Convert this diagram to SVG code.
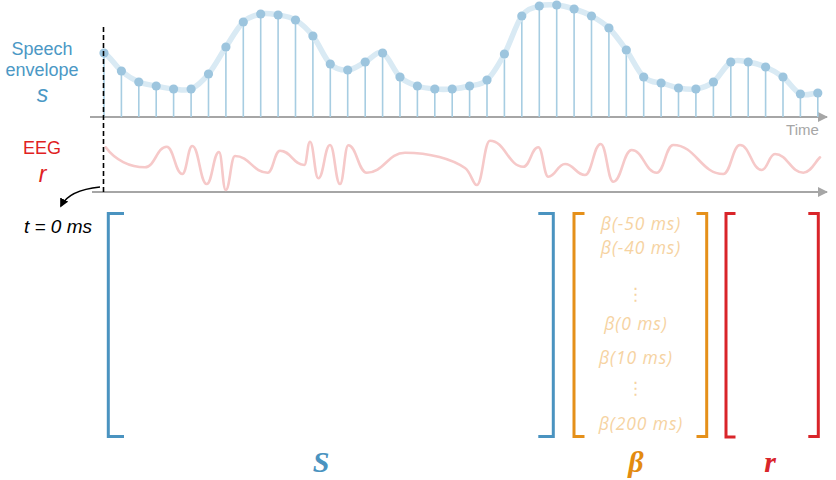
<svg xmlns="http://www.w3.org/2000/svg" width="836" height="480" viewBox="0 0 836 480">
<defs>
<style>
.lbl{font-family:"Liberation Sans",Arial,sans-serif;font-size:18px}
.blue{fill:#4b98c5}
.red{fill:#e0221f}
.axis{stroke:#a6a6a6;stroke-width:2;fill:none}
.stem{stroke:#a7cde2;stroke-width:1.6;fill:none}
.dot{fill:#9dc5de}
.env{stroke:#d9eaf4;stroke-width:5.5;fill:none;stroke-linecap:round}
.eeg{stroke:#f6c9c9;stroke-width:2.6;fill:none;stroke-linecap:round}
.br{fill:none;stroke-width:3}
.beta{font-family:"Open Sans","DejaVu Sans",sans-serif;font-style:italic;font-size:17.5px;letter-spacing:0.9px;fill:#f6d3a2;text-anchor:middle}
.big{font-family:"Liberation Serif","Times New Roman",serif;font-weight:bold;font-style:italic;font-size:30px;text-anchor:middle}
</style>
<marker id="ah" viewBox="0 0 10 10" refX="9" refY="5" markerWidth="5" markerHeight="5" orient="auto" markerUnits="strokeWidth">
<path d="M0,0L10,5L0,10z" fill="#a6a6a6"/>
</marker>
<marker id="ahb" viewBox="0 0 10 10" refX="8" refY="5" markerWidth="6" markerHeight="6" orient="auto" markerUnits="strokeWidth">
<path d="M0,0L10,5L0,10z" fill="#000"/>
</marker>
</defs>
<rect width="836" height="480" fill="#fff"/>

<g id="speech-label">
<text class="lbl blue" x="42" y="55" text-anchor="middle">Speech</text>
<text class="lbl blue" x="42" y="76" text-anchor="middle">envelope</text>
<text class="blue" x="42.5" y="101.5" text-anchor="middle" font-family="Liberation Sans,Arial,sans-serif" font-style="italic" font-size="23">s</text>
</g>
<g id="eeg-label">
<text class="lbl red" x="42" y="153.5" text-anchor="middle">EEG</text>
<text class="red" x="42.5" y="181.5" text-anchor="middle" font-family="Liberation Sans,Arial,sans-serif" font-style="italic" font-size="23">r</text>
</g>

<g id="axes">
<path class="axis" d="M90,117H827" marker-end="url(#ah)"/>
<path class="axis" d="M92,192H827" marker-end="url(#ah)"/>
<text x="802.5" y="135" text-anchor="middle" font-family="Liberation Sans,Arial,sans-serif" font-size="15" fill="#a6a6a6">Time</text>
</g>

<g id="speech-envelope">
<path class="stem" d="M104,53V117M121.4,71V117M138.8,82V117M156.2,86V117M173.6,89V117M191.1,89V117M208.5,74V117M225.9,47V117M243.3,22V117M260.7,14V117M278.1,15V117M295.5,20V117M312.9,36V117M330.3,64V117M347.7,70V117M365.2,62V117M382.6,53V117M400,77V117M417.4,86V117M434.8,89V117M452.2,89V117M469.6,86V117M487,80V117M504.4,54V117M521.8,16V117M539.3,6V117M556.7,5V117M574.1,9V117M591.5,16V117M608.9,28V117M626.3,50V117M643.7,77V117M661.1,83V117M678.5,88V117M695.9,89V117M713.4,82V117M730.8,62V117M748.2,62V117M765.6,67V117M783,77V117M800.4,94V117M817.8,93V117"/>
<path class="env" d="M104,53C109.8,56 115.6,66.2 121.4,71C127.2,75.8 133,79.5 138.8,82C144.6,84.5 150.4,84.8 156.2,86C162,87.2 167.8,88.5 173.6,89C179.4,89.5 185.3,91.5 191.1,89C196.9,86.5 202.7,81 208.5,74C214.3,67 220.1,55.7 225.9,47C231.7,38.3 237.5,27.5 243.3,22C249.1,16.5 254.9,15.2 260.7,14C266.5,12.8 272.3,14 278.1,15C283.9,16 289.7,16.5 295.5,20C301.3,23.5 307.1,28.7 312.9,36C318.7,43.3 324.5,58.3 330.3,64C336.1,69.7 341.9,70.3 347.7,70C353.5,69.7 359.4,64.8 365.2,62C371,59.2 376.8,50.5 382.6,53C388.4,55.5 394.2,71.5 400,77C405.8,82.5 411.6,84 417.4,86C423.2,88 429,88.5 434.8,89C440.6,89.5 446.4,89.5 452.2,89C458,88.5 463.8,87.5 469.6,86C475.4,84.5 481.2,85.3 487,80C492.8,74.7 498.6,64.7 504.4,54C510.2,43.3 516,24 521.8,16C527.6,8 533.5,7.8 539.3,6C545.1,4.2 550.9,4.5 556.7,5C562.5,5.5 568.3,7.2 574.1,9C579.9,10.8 585.7,12.8 591.5,16C597.3,19.2 603.1,22.3 608.9,28C614.7,33.7 620.5,41.8 626.3,50C632.1,58.2 637.9,71.5 643.7,77C649.5,82.5 655.3,82 661.1,83C666.9,84 672.7,87 678.5,88C684.3,89 690.1,90 695.9,89C701.7,88 707.6,86.5 713.4,82C719.2,77.5 725,65.3 730.8,62C736.6,58.7 742.4,61.2 748.2,62C754,62.8 759.8,64.5 765.6,67C771.4,69.5 777.2,72.5 783,77C788.8,81.5 794.6,91.3 800.4,94C806.2,96.7 812,93 817.8,93"/>
<g class="dot">
<circle cx="104" cy="53" r="4.6"/><circle cx="121.4" cy="71" r="4.6"/><circle cx="138.8" cy="82" r="4.6"/><circle cx="156.2" cy="86" r="4.6"/><circle cx="173.6" cy="89" r="4.6"/><circle cx="191.1" cy="89" r="4.6"/><circle cx="208.5" cy="74" r="4.6"/><circle cx="225.9" cy="47" r="4.6"/><circle cx="243.3" cy="22" r="4.6"/><circle cx="260.7" cy="14" r="4.6"/><circle cx="278.1" cy="15" r="4.6"/><circle cx="295.5" cy="20" r="4.6"/><circle cx="312.9" cy="36" r="4.6"/><circle cx="330.3" cy="64" r="4.6"/><circle cx="347.7" cy="70" r="4.6"/><circle cx="365.2" cy="62" r="4.6"/><circle cx="382.6" cy="53" r="4.6"/><circle cx="400" cy="77" r="4.6"/><circle cx="417.4" cy="86" r="4.6"/><circle cx="434.8" cy="89" r="4.6"/><circle cx="452.2" cy="89" r="4.6"/><circle cx="469.6" cy="86" r="4.6"/><circle cx="487" cy="80" r="4.6"/><circle cx="504.4" cy="54" r="4.6"/><circle cx="521.8" cy="16" r="4.6"/><circle cx="539.3" cy="6" r="4.6"/><circle cx="556.7" cy="5" r="4.6"/><circle cx="574.1" cy="9" r="4.6"/><circle cx="591.5" cy="16" r="4.6"/><circle cx="608.9" cy="28" r="4.6"/><circle cx="626.3" cy="50" r="4.6"/><circle cx="643.7" cy="77" r="4.6"/><circle cx="661.1" cy="83" r="4.6"/><circle cx="678.5" cy="88" r="4.6"/><circle cx="695.9" cy="89" r="4.6"/><circle cx="713.4" cy="82" r="4.6"/><circle cx="730.8" cy="62" r="4.6"/><circle cx="748.2" cy="62" r="4.6"/><circle cx="765.6" cy="67" r="4.6"/><circle cx="783" cy="77" r="4.6"/><circle cx="800.4" cy="94" r="4.6"/><circle cx="817.8" cy="93" r="4.6"/>
</g>
</g>

<g id="eeg-signal">
<path class="eeg" d="M105.7,147.3C115,160 130,167.3 145,167.3C154.8,167.3 156.9,146.7 166.7,146.7C173.7,146.7 175.3,174 182.3,174C186.8,174 187.8,146 192.3,146C198.8,146 200.2,184 206.7,184C212.2,184 213.5,152 219,152C222,152 222.7,190 225.7,190C229.9,190 230.8,156 235,156C249.7,156 253,172.7 267.7,172.7C273.2,172.7 274.5,150.7 280,150.7C290.9,150.7 293.4,165 304.3,165C306.9,165 307.4,141.7 310,141.7C313.7,141.7 314.6,178.3 318.3,178.3C323.6,178.3 324.7,145 330,145C334.5,145 335.5,184 340,184C343.7,184 344.6,145.3 348.3,145.3C356.6,145.3 358.4,172.7 366.7,172.7C383.9,172.7 387.8,152.7 405,152.7C430,152.7 452,159 465,168C471,172 473,185 476.7,185C482.7,185 484,140.7 490,140.7C505,140.7 508.3,166.7 523.3,166.7C530.1,166.7 531.5,147.3 538.3,147.3C542.8,147.3 543.8,176.7 548.3,176.7C555.8,176.7 557.5,164 565,164C574,164 576,175 585,175C592.1,175 593.6,144 600.7,144C606.4,144 607.6,181.7 613.3,181.7C621.6,181.7 623.4,150 631.7,150C643,150 645.4,172.7 656.7,172.7C664.2,172.7 665.8,145 673.3,145C695.8,145 700.8,174 723.3,174C730.8,174 732.5,145 740,145C749.8,145 751.9,170 761.7,170C767.7,170 769,154 775,154C787.7,154 790.6,172.7 803.3,172.7C811,172.7 815,162 820,157.3"/>
</g>

<g id="connectors">
<path d="M103.5,27V192" stroke="#000" stroke-width="1.6" stroke-dasharray="5,3" fill="none"/>
<path d="M100,187C80,189 66,196 61,206" stroke="#000" stroke-width="1.5" fill="none" marker-end="url(#ahb)"/>
</g>
<g id="t0-label">
<text x="58" y="233" text-anchor="middle" font-family="Liberation Sans,Arial,sans-serif" font-style="italic" font-size="19" fill="#000">t = 0 ms</text>
</g>

<g id="matrix-S">
<path class="br" stroke="#4a93c0" d="M124,213.5H108.3V436.5H124M538.3,213.5H553.3V436.5H538.3"/>
<text class="big" x="321" y="472" fill="#4a93c0">S</text>
</g>
<g id="matrix-beta">
<path class="br" stroke="#e5901a" d="M584.5,213.5H574V436.5H584.5M696.5,213.5H706.7V436.5H696.5"/>
<text class="beta" x="641" y="230">β(-50 ms)</text>
<text class="beta" x="641" y="254">β(-40 ms)</text>
<text class="beta" x="636" y="300">⋮</text>
<text class="beta" x="636" y="330">β(0 ms)</text>
<text class="beta" x="636" y="364">β(10 ms)</text>
<text class="beta" x="636" y="394">⋮</text>
<text class="beta" x="641" y="430">β(200 ms)</text>
<text class="big" x="636" y="472" fill="#e38b10">β</text>
</g>
<g id="matrix-r">
<path class="br" stroke="#d9252a" d="M735.5,213.5H726V437H735.5M808.3,213.5H818.3V436.5H808.3"/>
<text class="big" x="770" y="472" fill="#d9252a">r</text>
</g>
</svg>
